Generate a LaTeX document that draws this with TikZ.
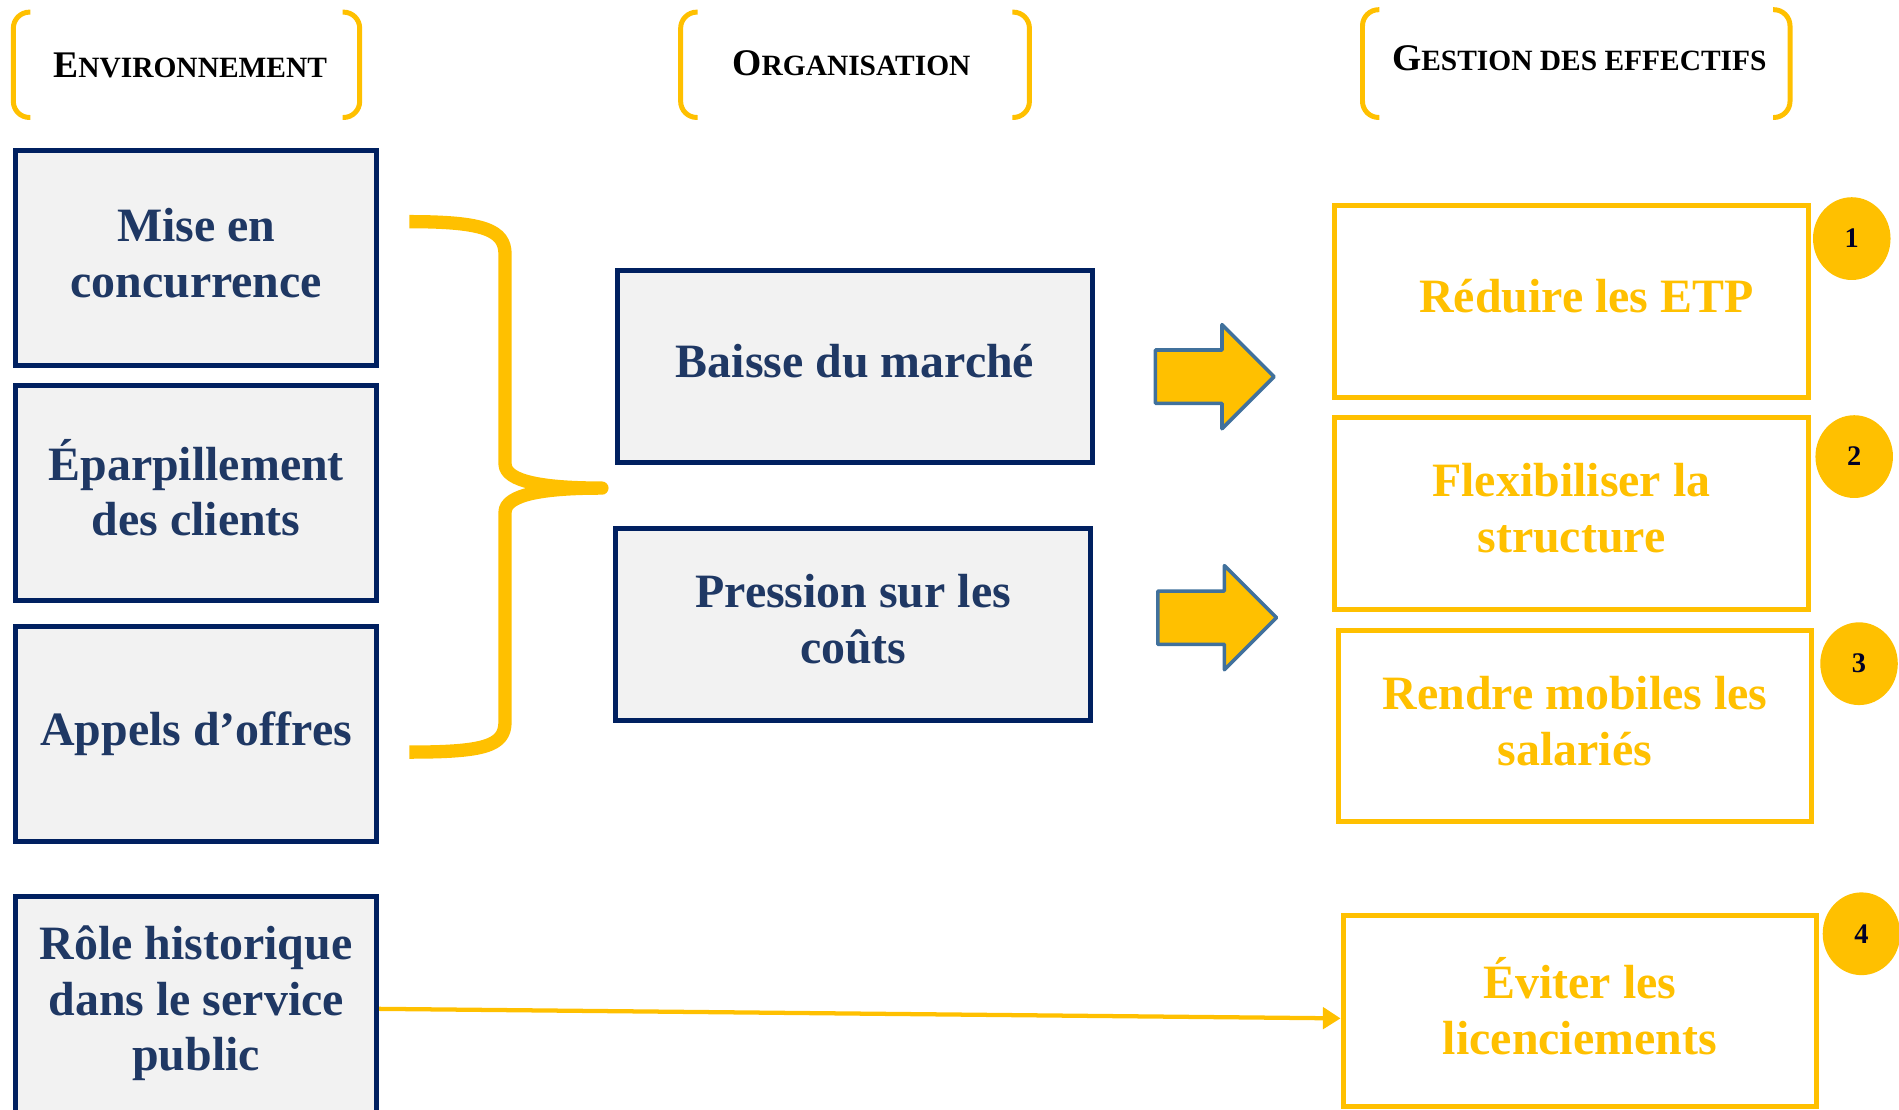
\documentclass[tikz,border=0pt]{standalone}
\usepackage{fontspec}
\setmainfont{Liberation Serif}
\usetikzlibrary{shapes.geometric,arrows.meta}
\definecolor{marine}{HTML}{002060}
\definecolor{texte}{HTML}{1F3864}
\definecolor{gris}{HTML}{F2F2F2}
\definecolor{jaune}{HTML}{FFC000}
\definecolor{ardoise}{HTML}{41719C}
\newcommand{\petitcap}[2]{{\fontsize{10.6}{12}\selectfont #1}{\fontsize{8.3}{10}\selectfont #2}}

\begin{document}
\begin{tikzpicture}[x=0.12mm, y=-0.12mm,
	boitebleue/.style={draw=marine, line width=1.4pt, fill=gris, text=texte, minimum width=35.76mm, minimum height=21.36mm, inner sep=0pt, align=center, font={\fontsize{13.5}{15.7}\selectfont\bfseries}, execute at end node={\rule[-3pt]{0pt}{0pt}}},
	boitemilieu/.style={boitebleue, minimum width=47.04mm, minimum height=19.08mm},
	boitejaune/.style={draw=jaune, line width=1.4pt, fill=white, text=jaune, minimum width=46.92mm, minimum height=18.96mm, inner sep=0pt, align=center, font={\fontsize{13.5}{15.7}\selectfont\bfseries}, execute at end node={\rule[-3pt]{0pt}{0pt}}},
	pastille/.style={ellipse, fill=jaune, minimum width=7.68mm, minimum height=8.2mm, inner sep=0pt, text=black!85!blue, font={\fontsize{8}{9}\selectfont\bfseries}},
	titre/.style={inner sep=0pt, font=\bfseries},
	crochet/.style={draw=jaune, line width=1.4pt, rounded corners=1.6mm},
	accolade/.style={draw=jaune, line width=3.75pt, line join=round},
	grossefleche/.style={draw=ardoise, line width=1pt, fill=jaune, line join=round},
	fleche/.style={draw=jaune, line width=1.2pt, -{Triangle[length=5pt,width=6pt]}}]
	\useasboundingbox (0,0) rectangle (1568,916);
	\foreach \g/\d/\h in {11/297/10, 562/850/10, 1125/1478/8}{
		\draw[crochet] (\g+14,\h) -- (\g,\h) -- (\g,97) -- (\g+14,97);
		\draw[crochet] (\d-14,\h) -- (\d,\h) -- (\d,97) -- (\d-14,97);
	}
	\node[titre] (environnement) at (157,54) {\petitcap{E}{NVIRONNEMENT}};
	\node[titre] (organisation) at (703,52) {\petitcap{O}{RGANISATION}};
	\node[titre] (gestion) at (1304,48) {\petitcap{G}{ESTION DES EFFECTIFS}};

	\node[boitebleue] (concurrence) at (162,213) {Mise en\\concurrence};
	\node[boitebleue] (clients) at (162,407) {Éparpillement\\des clients};
	\node[boitebleue] (offres) at (162,606) {Appels d’offres};
	\node[boitebleue, minimum height=22.32mm] (role) at (162,833) {Rôle historique\\dans le service\\public\rule[-6pt]{0pt}{0pt}};

	\node[boitemilieu] (baisse) at (706,302.5) {Baisse du marché};
	\node[boitemilieu] (pression) at (704.5,515.5) {Pression sur les\\coûts};

	\node[boitejaune] (etp) at (1297.5,249) {\hspace{3mm}Réduire les ETP};
	\node[boitejaune] (structure) at (1297.5,424) {Flexibiliser la\\structure};
	\node[boitejaune] (mobiles) at (1300.5,599.5) {Rendre mobiles les\\salariés};
	\node[boitejaune] (eviter) at (1304.5,835) {Éviter les\\licenciements};

	\node[pastille] (p1) at (1529,197) {1};
	\node[pastille] (p2) at (1531,377) {2};
	\node[pastille] (p3) at (1535,548) {3};
	\node[pastille] (p4) at (1537,771) {4};

	\draw[accolade] (338,183) .. controls (400,183) and (417,190) .. (417,210) -- (417,383)
		.. controls (417,398) and (450,403) .. (497,403)
		.. controls (450,403) and (417,408) .. (417,423) -- (417,596)
		.. controls (417,616) and (400,621) .. (338,621);

	\foreach \x/\y in {954/289, 956/488}
		\draw[grossefleche] (\x,\y) -- ++(55,0) -- ++(0,-21) -- ++(43,43) -- ++(-43,43) -- ++(0,-21) -- ++(-55,0) -- cycle;

	\draw[fleche] (role.east) -- ([yshift=-2pt]eviter.west);
\end{tikzpicture}
\end{document}
